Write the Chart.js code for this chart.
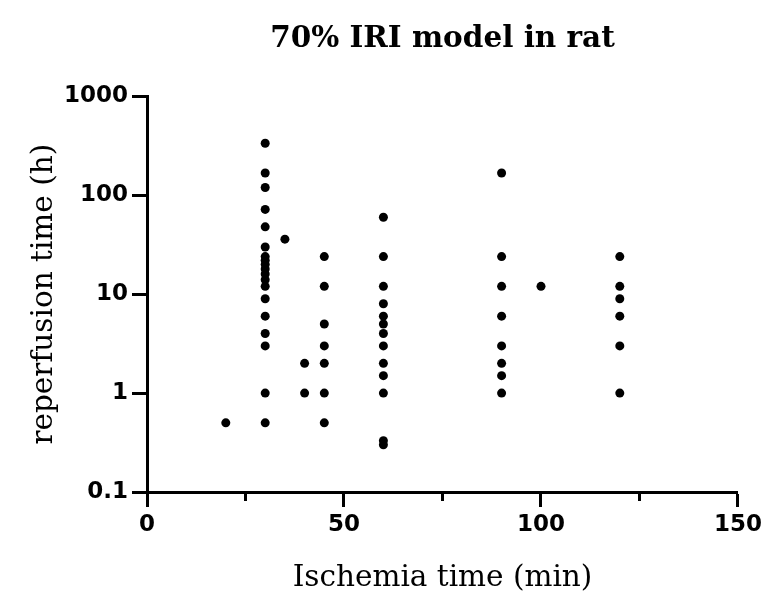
<!DOCTYPE html>
<html>
<head>
<meta charset="utf-8">
<script src="https://cdn.jsdelivr.net/npm/chart.js@4.4.1/dist/chart.umd.min.js"></script>
<style>
    html, body { margin: 0; padding: 0; background: #fff; }
    #wrap { width: 766px; height: 597px; }
</style>
</head>
<body>
<div id="wrap"><canvas id="chart"></canvas></div>
<script>
// Ischemia time (min) groups and the reperfusion times (h) seen at each
const ischemiaMin = [20, 30, 35, 40, 45, 60, 90, 100, 120];
const rep20 = [0.5];
const rep30 = [336, 168, 120, 72, 48, 30, 24, 22, 20, 18, 16, 14, 12, 9, 6, 4, 3, 1, 0.5];
const rep35 = [36];
const rep40 = [2, 1];
const rep45 = [24, 12, 5, 3, 2, 1, 0.5];
const rep60 = [60, 24, 12, 8, 6, 5, 4, 3, 2, 1.5, 1, 0.33, 0.3];
const rep90 = [168, 24, 12, 6, 3, 2, 1.5, 1];
const rep100 = [12];
const rep120 = [24, 12, 9, 6, 3, 1];
const reperfusionH = [rep20, rep30, rep35, rep40, rep45, rep60, rep90, rep100, rep120];

const xMajorTicks = [0, 50, 100, 150];
const xMinorTicks = [25, 75, 125];
const yTicks = [0.1, 1, 10, 100, 1000];

const points = [];
ischemiaMin.forEach((x, i) => {
    reperfusionH[i].forEach(y => points.push({ x, y }));
});

const serif = "'DejaVu Serif', 'Liberation Serif', serif";
const sans = "'DejaVu Sans', 'Liberation Sans', sans-serif";

// short ticks for 25 / 75 / 125 on the x axis
const minorTicks = {
    id: 'minorTicks',
    afterDraw(chart) {
        const sx = chart.scales.x;
        const ctx = chart.ctx;
        ctx.save();
        ctx.strokeStyle = '#000';
        ctx.lineWidth = 3;
        xMinorTicks.forEach(v => {
            const px = sx.getPixelForValue(v);
            ctx.beginPath();
            ctx.moveTo(px, sx.top);
            ctx.lineTo(px, sx.top + 9);
            ctx.stroke();
        });
        ctx.restore();
    },
};

new Chart(document.getElementById('chart'), {
    type: 'scatter',
    data: {
        datasets: [{
            data: points,
            backgroundColor: '#000',
            borderWidth: 0,
            pointRadius: 4.5,
            clip: false,
        }],
    },
    options: {
        responsive: true,
        maintainAspectRatio: false,
        animation: false,
        layout: { padding: { right: 26 } },
        plugins: {
            legend: { display: false },
            tooltip: { enabled: false },
            title: {
                display: true,
                fullSize: false,
                text: '70% IRI model in rat',
                color: '#000',
                font: { family: serif, size: 29.5, weight: 'bold' },
                padding: { top: 22, bottom: 39 },
            },
        },
        scales: {
            x: {
                type: 'linear',
                min: 0,
                max: 150,
                afterFit: (s) => { s.height = 105; },
                afterBuildTicks: (s) => { s.ticks = xMajorTicks.map(v => ({ value: v })); },
                ticks: {
                    color: '#000',
                    font: { family: sans, size: 23, weight: 'bold' },
                    padding: 4,
                    maxRotation: 0,
                },
                grid: {
                    drawOnChartArea: false,
                    tickLength: 15,
                    tickWidth: 3,
                    tickColor: '#000',
                },
                border: { color: '#000', width: 3 },
                title: {
                    display: true,
                    text: 'Ischemia time (min)',
                    color: '#000',
                    font: { family: serif, size: 29.5 },
                    padding: { top: 0, bottom: 1 },
                },
            },
            y: {
                type: 'logarithmic',
                min: 0.1,
                max: 1000,
                afterFit: (s) => { s.width = 147; },
                afterBuildTicks: (s) => { s.ticks = yTicks.map(v => ({ value: v })); },
                ticks: {
                    color: '#000',
                    font: { family: sans, size: 23, weight: 'bold' },
                    padding: 4,
                    callback: (v) => String(v),
                },
                grid: {
                    drawOnChartArea: false,
                    tickLength: 15,
                    tickWidth: 3,
                    tickColor: '#000',
                },
                border: { color: '#000', width: 3 },
                title: {
                    display: true,
                    text: 'reperfusion time (h)',
                    color: '#000',
                    font: { family: serif, size: 29.5 },
                    padding: { top: 27, bottom: 0 },
                },
            },
        },
    },
    plugins: [minorTicks],
});
</script>
</body>
</html>
